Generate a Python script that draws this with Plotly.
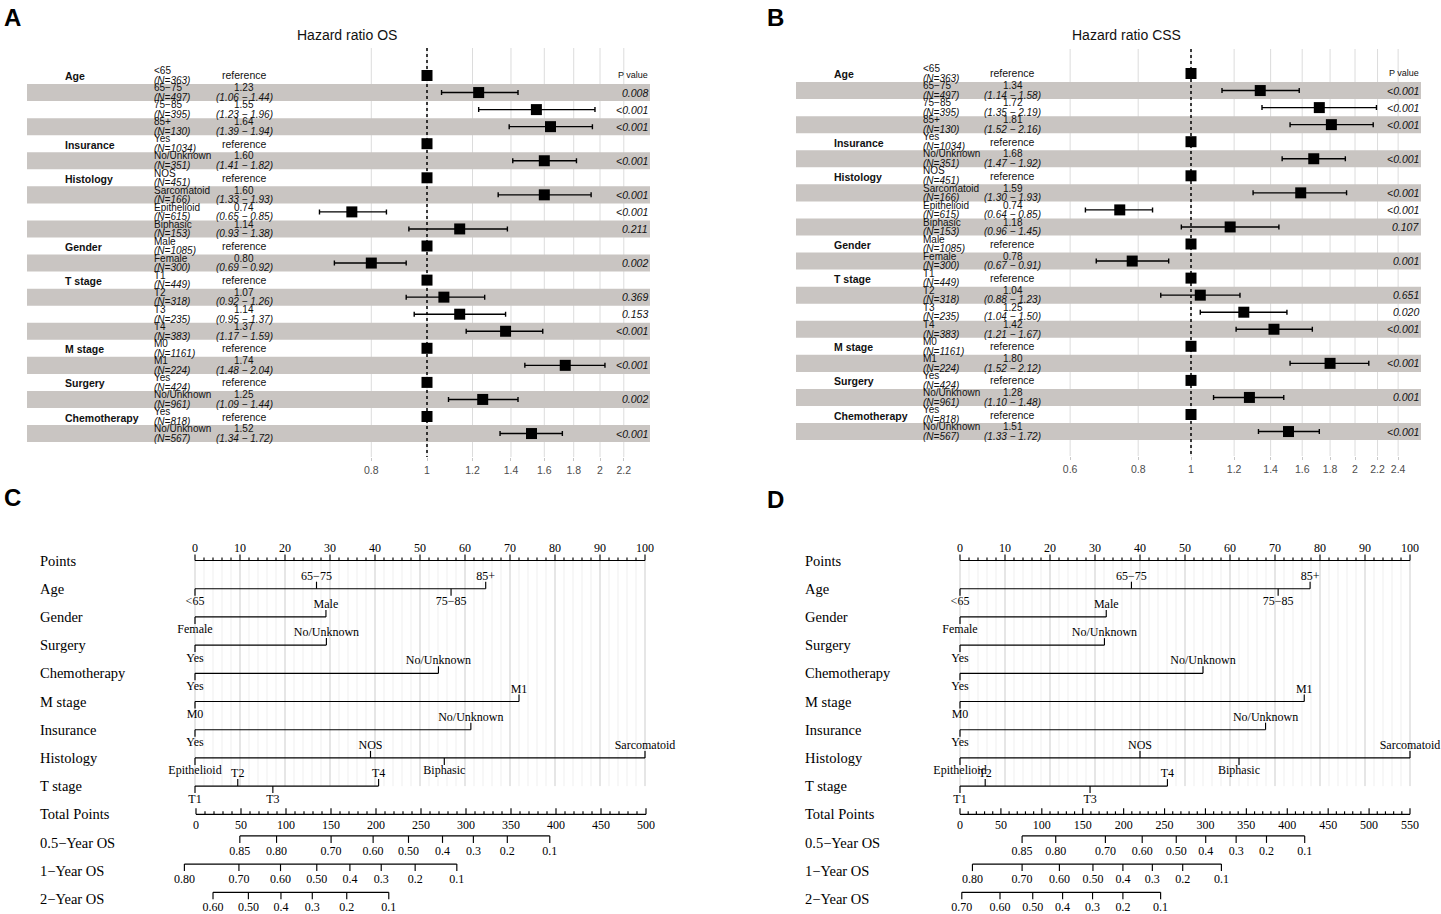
import math
import plotly.graph_objects as go

W, H = 1441, 914

# ---------------- Forest plot data ----------------
fp_variables = ["Age", "Insurance", "Histology", "Gender", "T stage", "M stage", "Surgery", "Chemotherapy"]
fp_var_sizes = [4, 2, 4, 2, 4, 2, 2, 2]
fp_levels = ["<65", "65−75", "75−85", "85+", "Yes", "No/Unknown", "NOS", "Sarcomatoid",
             "Epithelioid", "Biphasic", "Male", "Female", "T1", "T2", "T3", "T4", "M0", "M1",
             "Yes", "No/Unknown", "Yes", "No/Unknown"]
fp_n = [363, 497, 395, 130, 1034, 351, 451, 166, 615, 153, 1085, 300, 449, 318, 235, 383,
        1161, 224, 424, 961, 818, 567]

os_hr = [1.00, 1.23, 1.55, 1.64, 1.00, 1.60, 1.00, 1.60, 0.74, 1.14, 1.00, 0.80, 1.00, 1.07,
         1.14, 1.37, 1.00, 1.74, 1.00, 1.25, 1.00, 1.52]
os_lo = [None, 1.06, 1.23, 1.39, None, 1.41, None, 1.33, 0.65, 0.93, None, 0.69, None, 0.92,
         0.95, 1.17, None, 1.48, None, 1.09, None, 1.34]
os_hi = [None, 1.44, 1.96, 1.94, None, 1.82, None, 1.93, 0.85, 1.38, None, 0.92, None, 1.26,
         1.37, 1.59, None, 2.04, None, 1.44, None, 1.72]
os_p = ["", "0.008", "<0.001", "<0.001", "", "<0.001", "", "<0.001", "<0.001", "0.211", "",
        "0.002", "", "0.369", "0.153", "<0.001", "", "<0.001", "", "0.002", "", "<0.001"]

css_hr = [1.00, 1.34, 1.72, 1.81, 1.00, 1.68, 1.00, 1.59, 0.74, 1.18, 1.00, 0.78, 1.00, 1.04,
          1.25, 1.42, 1.00, 1.80, 1.00, 1.28, 1.00, 1.51]
css_lo = [None, 1.14, 1.35, 1.52, None, 1.47, None, 1.30, 0.64, 0.96, None, 0.67, None, 0.88,
          1.04, 1.21, None, 1.52, None, 1.10, None, 1.33]
css_hi = [None, 1.58, 2.19, 2.16, None, 1.92, None, 1.93, 0.85, 1.45, None, 0.91, None, 1.23,
          1.50, 1.67, None, 2.12, None, 1.48, None, 1.72]
css_p = ["", "<0.001", "<0.001", "<0.001", "", "<0.001", "", "<0.001", "<0.001", "0.107", "",
         "0.001", "", "0.651", "0.020", "<0.001", "", "<0.001", "", "0.001", "", "<0.001"]

os_ticks = [0.8, 1, 1.2, 1.4, 1.6, 1.8, 2, 2.2]
os_ticktext = ["0.8", "1", "1.2", "1.4", "1.6", "1.8", "2", "2.2"]
css_ticks = [0.6, 0.8, 1, 1.2, 1.4, 1.6, 1.8, 2, 2.2, 2.4]
css_ticktext = ["0.6", "0.8", "1", "1.2", "1.4", "1.6", "1.8", "2", "2.2", "2.4"]

# ---------------- Nomogram data ----------------
nomo_rows = ["Points", "Age", "Gender", "Surgery", "Chemotherapy", "M stage", "Insurance",
             "Histology", "T stage", "Total Points", "0.5−Year OS", "1−Year OS", "2−Year OS"]
nomo_levels = [["<65", "65−75", "75−85", "85+"], ["Female", "Male"], ["Yes", "No/Unknown"],
               ["Yes", "No/Unknown"], ["M0", "M1"], ["Yes", "No/Unknown"],
               ["Epithelioid", "NOS", "Biphasic", "Sarcomatoid"], ["T1", "T2", "T3", "T4"]]
c_points = [[0, 27.0, 56.9, 64.6], [0, 29.1], [0, 29.2], [0, 54.1], [0, 72.0], [0, 61.3],
            [0, 39.0, 55.4, 100], [0, 9.5, 17.3, 40.8]]
d_points = [[0, 38.1, 70.7, 77.8], [0, 32.5], [0, 32.1], [0, 54.0], [0, 76.5], [0, 67.9],
            [0, 40.0, 62.0, 100], [0, 5.6, 28.9, 46.1]]
c_total_max = 500
d_total_max = 550

surv05_labels = ["0.85", "0.80", "0.70", "0.60", "0.50", "0.4", "0.3", "0.2", "0.1"]
surv1_labels = ["0.80", "0.70", "0.60", "0.50", "0.4", "0.3", "0.2", "0.1"]
c_surv2_labels = ["0.60", "0.50", "0.4", "0.3", "0.2", "0.1"]
d_surv2_labels = ["0.70", "0.60", "0.50", "0.4", "0.3", "0.2", "0.1"]
c_surv05_tp = [48.7, 89.5, 150.1, 196.8, 236.1, 273.9, 308.2, 345.9, 393.1]
c_surv1_tp = [-12.9, 47.7, 93.9, 134.2, 171.0, 205.8, 243.5, 289.8]
c_surv2_tp = [18.9, 58.2, 94.4, 129.2, 167.5, 214.2]
d_surv05_tp = [75.9, 117.0, 177.7, 222.7, 264.3, 300.3, 337.5, 374.6, 421.3]
d_surv1_tp = [15.2, 75.9, 121.5, 162.5, 199.1, 235.1, 272.2, 319.5]
d_surv2_tp = [2.2, 48.9, 88.9, 125.4, 162.0, 199.1, 245.2]

# ---------------- styles ----------------
SANS = "Liberation Sans, Arial, sans-serif"
SERIF = "Liberation Serif, Times New Roman, serif"
BAND = "#c9c5c2"
GRID = "#dcdcdc"
TXT = "#111111"

fig = go.Figure()
ann = []


def px_x(p):
    return p / W


def py_y(p):
    return 1 - p / H


def lin_range(p0, k, left, right):
    return [(left - p0) / k, (right - p0) / k]


def log_range(p0, k, left, right):
    return [((left - p0) / k) / math.log(10), ((right - p0) / k) / math.log(10)]


def row_range(p0, k, top, bottom):
    return [(bottom - p0) / k, (top - p0) / k]


# forest axis geometry (pixel anchors)
A_X = dict(p0=427, k=249.6, left=27, right=650)
B_X = dict(p0=1191, k=236.6, left=796, right=1421)
A_Y = dict(p0=75.5, k=17.05, top=48, bottom=457)
B_Y = dict(p0=73.5, k=17.05, top=49, bottom=456)


def segs(pairs_x, pairs_y):
    xs, ys = [], []
    for (a, b), (c, d) in zip(pairs_x, pairs_y):
        xs += [a, b, None]
        ys += [c, d, None]
    return xs, ys


# ---------------- forest panels ----------------
def forest(xa, ya, geo_x, geo_y, ticks, hr, lo, hi, pv, cols):
    x_var, x_lvl, x_est, x_p = cols
    nrow = len(fp_levels)
    lr = log_range(geo_x["p0"], geo_x["k"], geo_x["left"], geo_x["right"])
    xmin, xmax = 10 ** lr[0], 10 ** lr[1]
    yr = row_range(geo_y["p0"], geo_y["k"], geo_y["top"], geo_y["bottom"])
    ybot, ytop = yr[0], yr[1]
    gx, gy = segs([(t, t) for t in ticks], [(ytop, ybot)] * len(ticks))
    fig.add_trace(go.Scatter(x=gx, y=gy, mode="lines", line=dict(color=GRID, width=1),
                             xaxis=xa, yaxis=ya, hoverinfo="skip", showlegend=False))
    bx, by = [], []
    for i in range(nrow):
        if i % 2 == 1:
            bx += [xmin, xmax, xmax, xmin, xmin, None]
            by += [i - 0.5, i - 0.5, i + 0.5, i + 0.5, i - 0.5, None]
    fig.add_trace(go.Scatter(x=bx, y=by, mode="lines", fill="toself", fillcolor=BAND,
                             line=dict(width=0, color=BAND), xaxis=xa, yaxis=ya,
                             hoverinfo="skip", showlegend=False))
    fig.add_trace(go.Scatter(x=[1, 1], y=[ytop, ybot], mode="lines",
                             line=dict(color="black", width=1.5, dash="dot"),
                             xaxis=xa, yaxis=ya, hoverinfo="skip", showlegend=False))
    idx = [i for i in range(nrow) if lo[i] is not None]
    ref = [i for i in range(nrow) if lo[i] is None]
    fig.add_trace(go.Scatter(
        x=[hr[i] for i in idx], y=idx, mode="markers",
        marker=dict(symbol="square", size=11, color="black"),
        error_x=dict(type="data", symmetric=False,
                     array=[hi[i] - hr[i] for i in idx],
                     arrayminus=[hr[i] - lo[i] for i in idx],
                     color="black", thickness=1.4, width=2.5),
        xaxis=xa, yaxis=ya, hoverinfo="skip", showlegend=False))
    fig.add_trace(go.Scatter(
        x=[hr[i] for i in ref], y=ref, mode="markers",
        marker=dict(symbol="square", size=11, color="black"),
        xaxis=xa, yaxis=ya, hoverinfo="skip", showlegend=False))
    f = dict(family=SANS, size=10, color=TXT)
    dy = 4.8
    row = 0
    for v, s in zip(fp_variables, fp_var_sizes):
        ann.append(dict(text="<b>%s</b>" % v, x=px_x(x_var), xref="paper", y=row, yref=ya,
                        xanchor="left", yanchor="middle", showarrow=False, yshift=-1,
                        font=dict(f, size=10.5)))
        row += s
    for i in range(nrow):
        ann.append(dict(text=fp_levels[i], x=px_x(x_lvl), xref="paper", y=i, yref=ya,
                        xanchor="left", yanchor="middle", showarrow=False, yshift=dy, font=f))
        ann.append(dict(text="<i>(N=%d)</i>" % fp_n[i], x=px_x(x_lvl), xref="paper", y=i,
                        yref=ya, xanchor="left", yanchor="middle", showarrow=False,
                        yshift=-dy, font=f))
        if lo[i] is None:
            ann.append(dict(text="reference", x=px_x(x_est), xref="paper", y=i, yref=ya,
                            xanchor="center", yanchor="middle", showarrow=False,
                            font=dict(f, size=10.5)))
        else:
            ann.append(dict(text="%.2f" % hr[i], x=px_x(x_est), xref="paper", y=i, yref=ya,
                            xanchor="center", yanchor="middle", showarrow=False, yshift=dy,
                            font=f))
            ann.append(dict(text="<i>(%.2f − %.2f)</i>" % (lo[i], hi[i]), x=px_x(x_est),
                            xref="paper", y=i, yref=ya, xanchor="center", yanchor="middle",
                            showarrow=False, yshift=-dy, font=f))
        if pv[i]:
            ann.append(dict(text="<i>%s</i>" % pv[i], x=px_x(x_p), xref="paper", y=i,
                            yref=ya, xanchor="right", yanchor="middle", showarrow=False,
                            font=dict(f, size=10.5)))
    ann.append(dict(text="P value", x=px_x(x_p), xref="paper", y=0, yref=ya,
                    xanchor="right", yanchor="middle", showarrow=False,
                    font=dict(family=SANS, size=9, color=TXT)))


forest("x", "y", A_X, A_Y, os_ticks, os_hr, os_lo, os_hi, os_p, (63, 152, 244, 650))
forest("x2", "y2", B_X, B_Y, css_ticks, css_hr, css_lo, css_hi, css_p, (832, 921, 1013, 1421))

# ---------------- nomograms ----------------
RPX = 28.2  # px per row
YR0 = 560.5
T_MAJ = 6 / RPX
T_MIN = 3 / RPX
T_LVL = 7 / RPX
L_ABOVE = 12 / RPX
L_BELOW = 13.5 / RPX
S_OFF = -6.6 / RPX
S_TICK = 7 / RPX
S_LAB = 16 / RPX
LINE = dict(color="black", width=1.15)
NF = dict(family=SERIF, size=12, color="black")


def nomogram(xp, xt, yax, label_px, points, total_max, surv_tp, surv_lab):
    gx_min = [v for v in range(0, 101, 2) if v % 10]
    gx_maj = list(range(0, 101, 10))
    for gl, col, wd in ((gx_min, "#ebebeb", 0.8), (gx_maj, "#cdcdcd", 1.0)):
        xs, ys = segs([(v, v) for v in gl], [(0, 8)] * len(gl))
        fig.add_trace(go.Scatter(x=xs, y=ys, mode="lines", line=dict(color=col, width=wd),
                                 xaxis=xp, yaxis=yax, hoverinfo="skip", showlegend=False))
    px_ = [(0, 100)]
    py_ = [(0, 0)]
    for v in range(0, 101, 2):
        px_.append((v, v))
        py_.append((0, -(T_MAJ if v % 10 == 0 else T_MIN)))
    xs, ys = segs(px_, py_)
    fig.add_trace(go.Scatter(x=xs, y=ys, mode="lines", line=LINE, xaxis=xp, yaxis=yax,
                             hoverinfo="skip", showlegend=False))
    fig.add_trace(go.Scatter(x=gx_maj, y=[-L_ABOVE] * len(gx_maj), mode="text",
                             text=[str(v) for v in gx_maj], textfont=NF, xaxis=xp, yaxis=yax,
                             hoverinfo="skip", showlegend=False, cliponaxis=False))
    for k, (lv, pts) in enumerate(zip(nomo_levels, points)):
        r = k + 1
        order = sorted(range(len(pts)), key=lambda j: pts[j])
        px_ = [(0, max(pts))]
        py_ = [(r, r)]
        tx, ty, tt = [], [], []
        for rank, j in enumerate(order):
            above = rank % 2 == 1
            px_.append((pts[j], pts[j]))
            py_.append((r, r - T_LVL if above else r + T_LVL))
            tx.append(pts[j])
            ty.append(r - L_ABOVE if above else r + L_BELOW)
            tt.append(lv[j])
        xs, ys = segs(px_, py_)
        fig.add_trace(go.Scatter(x=xs, y=ys, mode="lines", line=LINE, xaxis=xp, yaxis=yax,
                                 hoverinfo="skip", showlegend=False))
        fig.add_trace(go.Scatter(x=tx, y=ty, mode="text", text=tt, textfont=NF, xaxis=xp,
                                 yaxis=yax, hoverinfo="skip", showlegend=False,
                                 cliponaxis=False))
    r = 9
    px_ = [(0, total_max)]
    py_ = [(r, r)]
    for v in range(0, total_max + 1, 10):
        px_.append((v, v))
        py_.append((r, r - (T_MAJ if v % 50 == 0 else T_MIN)))
    xs, ys = segs(px_, py_)
    fig.add_trace(go.Scatter(x=xs, y=ys, mode="lines", line=LINE, xaxis=xt, yaxis=yax,
                             hoverinfo="skip", showlegend=False))
    tv = list(range(0, total_max + 1, 50))
    fig.add_trace(go.Scatter(x=tv, y=[r + L_ABOVE] * len(tv), mode="text",
                             text=[str(v) for v in tv], textfont=NF, xaxis=xt, yaxis=yax,
                             hoverinfo="skip", showlegend=False, cliponaxis=False))
    for s, (tps, labs) in enumerate(zip(surv_tp, surv_lab)):
        r = 10 + s + S_OFF
        px_ = [(min(tps), max(tps))]
        py_ = [(r, r)]
        for v in tps:
            px_.append((v, v))
            py_.append((r, r + S_TICK))
        xs, ys = segs(px_, py_)
        fig.add_trace(go.Scatter(x=xs, y=ys, mode="lines", line=LINE, xaxis=xt, yaxis=yax,
                                 hoverinfo="skip", showlegend=False))
        fig.add_trace(go.Scatter(x=tps, y=[r + S_LAB] * len(tps), mode="text", text=labs,
                                 textfont=NF, xaxis=xt, yaxis=yax, hoverinfo="skip",
                                 showlegend=False, cliponaxis=False))
    for r, name in enumerate(nomo_rows):
        ann.append(dict(text=name, x=px_x(label_px), xref="paper", y=r, yref=yax,
                        xanchor="left", yanchor="middle", showarrow=False,
                        font=dict(family=SERIF, size=14.5, color="black")))


nomogram("x3", "x4", "y3", 38, c_points, c_total_max,
         [c_surv05_tp, c_surv1_tp, c_surv2_tp], [surv05_labels, surv1_labels, c_surv2_labels])
nomogram("x5", "x6", "y3", 803, d_points, d_total_max,
         [d_surv05_tp, d_surv1_tp, d_surv2_tp], [surv05_labels, surv1_labels, d_surv2_labels])

# ---------------- titles & panel letters ----------------
for t, xc in (("Hazard ratio OS", 347), ("Hazard ratio CSS", 1126)):
    ann.append(dict(text=t, x=px_x(xc), xref="paper", y=py_y(35), yref="paper",
                    xanchor="center", yanchor="middle", showarrow=False,
                    font=dict(family=SANS, size=14, color=TXT)))
for t, xc, yc in (("A", 12, 17), ("B", 776, 17), ("C", 12, 497), ("D", 776, 500)):
    ann.append(dict(text="<b>%s</b>" % t, x=px_x(xc), xref="paper", y=py_y(yc), yref="paper",
                    xanchor="center", yanchor="middle", showarrow=False,
                    font=dict(family=SANS, size=24, color="black")))

# ---------------- axes ----------------
hidden = dict(visible=False, showgrid=False, zeroline=False, fixedrange=True)


def forest_x(g, ticks, ttext, anchor):
    return dict(type="log", domain=[px_x(g["left"]), px_x(g["right"])],
                range=log_range(g["p0"], g["k"], g["left"], g["right"]),
                tickvals=ticks, ticktext=ttext, showgrid=False,
                showline=False, zeroline=False, ticks="outside", ticklen=3, tickcolor="#c8c8c8",
                tickfont=dict(family=SANS, size=10.5, color="#4d4d4d"), anchor=anchor,
                fixedrange=True)


def forest_y(g, anchor):
    return dict(hidden, domain=[py_y(g["bottom"]), py_y(g["top"])],
                range=row_range(g["p0"], g["k"], g["top"], g["bottom"]), anchor=anchor)


layout = dict(
    width=W, height=H, margin=dict(l=0, r=0, t=0, b=0),
    paper_bgcolor="white", plot_bgcolor="rgba(0,0,0,0)", showlegend=False,
    xaxis=forest_x(A_X, os_ticks, os_ticktext, "y"),
    yaxis=forest_y(A_Y, "x"),
    xaxis2=forest_x(B_X, css_ticks, css_ticktext, "y2"),
    yaxis2=forest_y(B_Y, "x2"),
    xaxis3=dict(hidden, domain=[px_x(150), px_x(700)], range=lin_range(195, 4.5, 150, 700),
                anchor="y3"),
    xaxis4=dict(hidden, domain=[px_x(150), px_x(700)], range=lin_range(196, 0.9, 150, 700),
                anchor="y3"),
    xaxis5=dict(hidden, domain=[px_x(900), px_x(1440)], range=lin_range(960, 4.5, 900, 1440),
                anchor="y3"),
    xaxis6=dict(hidden, domain=[px_x(900), px_x(1440)],
                range=lin_range(960, 450 / 550, 900, 1440), anchor="y3"),
    yaxis3=dict(hidden, domain=[py_y(914), py_y(530)], range=row_range(YR0, RPX, 530, 914),
                anchor="x3"),
    annotations=ann,
)
fig.update_layout(**layout)
fig.write_html("out.html", config={"displayModeBar": False, "staticPlot": True},
               post_script="document.body.style.margin='0';document.body.style.overflow='hidden';")
